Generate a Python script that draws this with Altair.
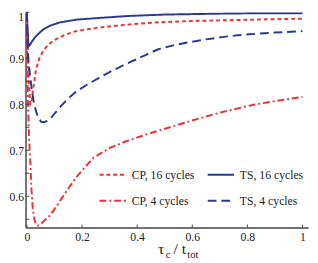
import altair as alt
import pandas as pd

# ---- data ----
series_names = ["CP, 16 cycles", "CP, 4 cycles", "TS, 16 cycles", "TS, 4 cycles"]
series_colors = ["#EC3237", "#EC3237", "#2B3990", "#2B3990"]
series_dash = [[4, 3], [7, 3, 2, 3], [1, 0], [9, 5]]

ts16_x = [0, 0.002, 0.005, 0.008, 0.012, 0.02, 0.03, 0.045, 0.06, 0.085, 0.12, 0.18, 0.27, 0.37, 0.5, 0.7, 0.85, 1.0]
ts16_y = [1.0, 0.965, 0.935, 0.927, 0.93, 0.938, 0.946, 0.955, 0.963, 0.971, 0.978, 0.984, 0.988, 0.992, 0.995, 0.997, 0.998, 0.998]

cp16_x = [0, 0.003, 0.007, 0.012, 0.017, 0.023, 0.033, 0.045, 0.056, 0.075, 0.1, 0.135, 0.172, 0.22, 0.265, 0.33, 0.38, 0.47, 0.6, 0.75, 0.9, 1.0]
cp16_y = [1.0, 0.93, 0.85, 0.80, 0.805, 0.835, 0.875, 0.9, 0.913, 0.928, 0.94, 0.95, 0.958, 0.963, 0.967, 0.971, 0.974, 0.978, 0.981, 0.983, 0.985, 0.986]

cp4_x = [0, 0.002, 0.004, 0.008, 0.012, 0.016, 0.021, 0.027, 0.034, 0.04, 0.047, 0.06, 0.085, 0.1, 0.12, 0.15, 0.184, 0.242, 0.3, 0.358, 0.416, 0.474, 0.59, 0.707, 0.823, 0.9, 1.0]
cp4_y = [1.0, 0.88, 0.80, 0.72, 0.68, 0.62, 0.575, 0.55, 0.538, 0.536, 0.538, 0.545, 0.559, 0.572, 0.59, 0.617, 0.645, 0.684, 0.705, 0.719, 0.731, 0.742, 0.763, 0.783, 0.799, 0.807, 0.816]

ts4_x = [0, 0.002, 0.006, 0.012, 0.018, 0.025, 0.033, 0.042, 0.052, 0.062, 0.075, 0.09, 0.102, 0.125, 0.149, 0.18, 0.219, 0.26, 0.3, 0.34, 0.38, 0.43, 0.474, 0.53, 0.59, 0.65, 0.707, 0.765, 0.823, 0.9, 0.974, 1.0]
ts4_y = [1.0, 0.93, 0.89, 0.86, 0.83, 0.805, 0.785, 0.77, 0.762, 0.761, 0.764, 0.772, 0.781, 0.797, 0.812, 0.828, 0.843, 0.857, 0.870, 0.882, 0.893, 0.907, 0.919, 0.928, 0.935, 0.941, 0.946, 0.950, 0.953, 0.956, 0.958, 0.959]

x_tick_values = [0, 0.2, 0.4, 0.6, 0.8, 1.0]
y_label_values = [0.6, 0.7, 0.8, 0.9, 1.0]
y_tick_values = [0.55, 0.6, 0.65, 0.7, 0.75, 0.8, 0.85, 0.9, 0.95, 1.0]

title_texts = ["τ", "c", "/ t", "tot"]

# ---- build table ----
rows = []
for name, xs, ys in [
    ("CP, 16 cycles", cp16_x, cp16_y),
    ("TS, 16 cycles", ts16_x, ts16_y),
    ("CP, 4 cycles", cp4_x, cp4_y),
    ("TS, 4 cycles", ts4_x, ts4_y),
]:
    for i, (xv, yv) in enumerate(zip(xs, ys)):
        rows.append({"series": name, "x": xv, "y": yv, "i": i})
df = pd.DataFrame(rows)

W, H = 290, 221
xscale = alt.Scale(domain=[-0.005, 1.02], nice=False, zero=False)
yscale = alt.Scale(domain=[0.532, 1.0], nice=False, zero=False)

xaxis = alt.Axis(
    values=x_tick_values, ticks=False, grid=False, title=None,
    labelExpr="datum.value == 0 ? '0' : datum.value == 1 ? '1' : format(datum.value, '.1f')",
    labelPadding=4)
yaxis = alt.Axis(
    values=y_label_values, ticks=False, grid=False, title=None,
    labelExpr="datum.value == 1 ? '1' : format(datum.value, '.1f')",
    labelOffset={"condition": {"test": "datum.value == 1", "value": 4}, "value": 0},
    labelPadding=2)

legend = alt.Legend(
    orient="none", legendX=75, legendY=152, columns=2, title=None,
    symbolType="stroke", symbolSize=729, symbolStrokeWidth=2,
    labelFont="Liberation Serif", labelFontSize=12, labelColor="#222",
    labelOffset=5, columnPadding=9, rowPadding=6, padding=0,
)

lines = alt.Chart(df).mark_line(strokeWidth=2, clip=True).encode(
    x=alt.X("x:Q", scale=xscale, axis=xaxis),
    y=alt.Y("y:Q", scale=yscale, axis=yaxis),
    color=alt.Color("series:N", scale=alt.Scale(domain=series_names, range=series_colors), legend=legend),
    strokeDash=alt.StrokeDash("series:N", scale=alt.Scale(domain=series_names, range=series_dash), legend=legend),
    order="i:Q",
)

xt = alt.Chart(pd.DataFrame({"x": x_tick_values})).mark_rule(color="#444", strokeWidth=1).encode(
    x=alt.X("x:Q", scale=xscale, axis=xaxis), y=alt.value(H), y2=alt.value(H - 3))
yt = alt.Chart(pd.DataFrame({"y": y_tick_values})).mark_rule(color="#444", strokeWidth=1).encode(
    y=alt.Y("y:Q", scale=yscale, axis=yaxis), x=alt.value(0), x2=alt.value(4))

def txt(s, px, py, size):
    return alt.Chart(pd.DataFrame({"s": [s]})).mark_text(
        font="Liberation Serif", fontSize=size, align="left", baseline="alphabetic", color="#222"
    ).encode(text="s:N", x=alt.value(px), y=alt.value(py))

t1 = txt(title_texts[0], 136, 248, 16)
t2 = txt(title_texts[1], 144, 252.5, 11)
t3 = txt(title_texts[2], 152, 248, 16)
t4 = txt(title_texts[3], 166, 252.5, 11)

chart = alt.layer(lines, xt, yt, t1, t2, t3, t4).properties(
    width=W, height=H,
    autosize=alt.AutoSizeParams(type="none"),
    padding={"left": 18, "top": 1, "right": 2, "bottom": 33},
).configure_view(stroke=None).configure_axis(
    domainColor="#444", domainWidth=1.5,
    labelFont="Liberation Serif", labelFontSize=12, labelColor="#222",
)

chart.save("out.html", embed_options={"renderer": "svg", "actions": False})
